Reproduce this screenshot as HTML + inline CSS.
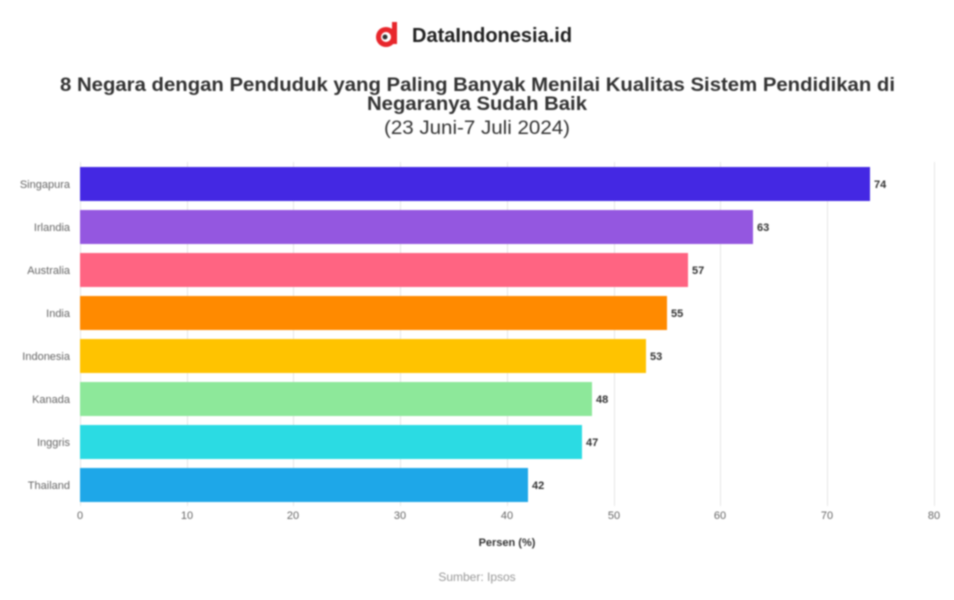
<!DOCTYPE html>
<html><head><meta charset="utf-8"><style>
body{margin:0;background:#fff;width:954px;height:595px;overflow:hidden;font-family:"Liberation Sans",sans-serif;}
svg{filter:blur(0.8px);}
</style></head><body>
<svg width="954" height="595" xmlns="http://www.w3.org/2000/svg" font-family="Liberation Sans, sans-serif">
<circle cx="386" cy="37" r="10" fill="#e8262c"/>
<circle cx="386" cy="37" r="5" fill="#fff"/>
<rect x="392" y="22" width="5" height="22" fill="#e8262c"/>
<circle cx="385" cy="37" r="2.5" fill="#333"/>
<text x="412" y="42" font-size="20" font-weight="bold" fill="#222">DataIndonesia.id</text>
<text x="60" y="91" font-size="19" font-weight="bold" fill="#333" textLength="835" lengthAdjust="spacingAndGlyphs">8 Negara dengan Penduduk yang Paling Banyak Menilai Kualitas Sistem Pendidikan di</text>
<text x="367" y="110" font-size="19" font-weight="bold" fill="#333" textLength="220" lengthAdjust="spacingAndGlyphs">Negaranya Sudah Baik</text>
<text x="384" y="134" font-size="19" fill="#333" textLength="186" lengthAdjust="spacingAndGlyphs">(23 Juni-7 Juli 2024)</text>
<g stroke="#e6e6e6" stroke-width="1">
<line x1="80.5" y1="162" x2="80.5" y2="506"/><line x1="187.5" y1="162" x2="187.5" y2="506"/>
<line x1="293.5" y1="162" x2="293.5" y2="506"/><line x1="400.5" y1="162" x2="400.5" y2="506"/>
<line x1="507.5" y1="162" x2="507.5" y2="506"/><line x1="614.5" y1="162" x2="614.5" y2="506"/>
<line x1="720.5" y1="162" x2="720.5" y2="506"/><line x1="827.5" y1="162" x2="827.5" y2="506"/>
<line x1="934.5" y1="162" x2="934.5" y2="506"/>
</g>
<g font-size="11" fill="#666" text-anchor="middle">
<text x="80" y="519">0</text><text x="187" y="519">10</text><text x="293" y="519">20</text><text x="400" y="519">30</text><text x="507" y="519">40</text><text x="614" y="519">50</text><text x="720" y="519">60</text><text x="827" y="519">70</text><text x="934" y="519">80</text>
</g>
<g font-size="11" fill="#666" text-anchor="end">
<text x="70" y="188">Singapura</text><text x="70" y="231">Irlandia</text><text x="70" y="274">Australia</text><text x="70" y="317">India</text><text x="70" y="360">Indonesia</text><text x="70" y="403">Kanada</text><text x="70" y="446">Inggris</text><text x="70" y="489">Thailand</text>
</g>
<rect x="80" y="167" width="790" height="34" fill="#4428e3"/>
<rect x="80" y="210" width="673" height="34" fill="#9457e0"/>
<rect x="80" y="253" width="608" height="34" fill="#ff6482"/>
<rect x="80" y="296" width="587" height="34" fill="#ff8a00"/>
<rect x="80" y="339" width="566" height="34" fill="#ffc300"/>
<rect x="80" y="382" width="512" height="34" fill="#8de89a"/>
<rect x="80" y="425" width="502" height="34" fill="#2bdbe3"/>
<rect x="80" y="468" width="448" height="34" fill="#1ea7e8"/>
<g font-size="11" font-weight="bold" fill="#333">
<text x="874" y="188">74</text><text x="757" y="231">63</text><text x="692" y="274">57</text><text x="671" y="317">55</text><text x="650" y="360">53</text><text x="596" y="403">48</text><text x="586" y="446">47</text><text x="532" y="489">42</text>
</g>
<text x="507" y="546" font-size="11" font-weight="bold" fill="#333" text-anchor="middle">Persen (%)</text>
<text x="477" y="581" font-size="12" fill="#999" text-anchor="middle">Sumber: Ipsos</text>
</svg>
</body></html>
